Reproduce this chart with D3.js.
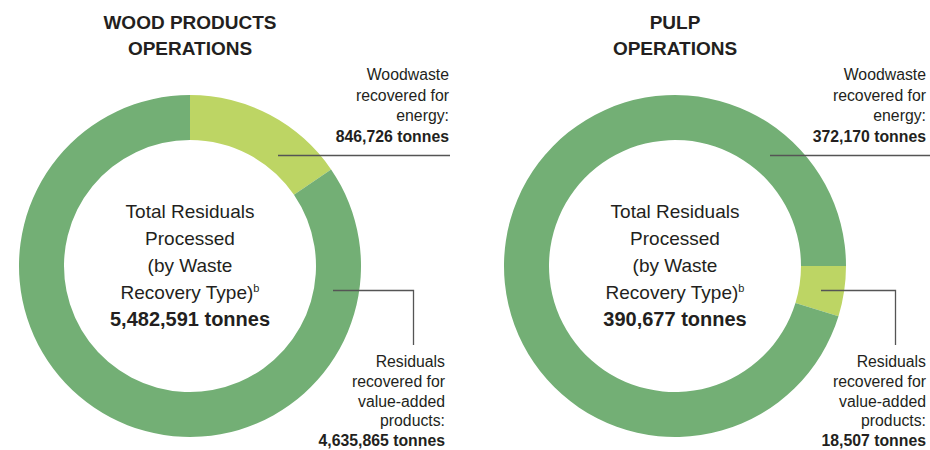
<!DOCTYPE html>
<html>
<head>
<meta charset="utf-8">
<script src="https://cdn.jsdelivr.net/npm/d3@7"></script>
<style>
  html, body { margin: 0; padding: 0; background: #ffffff; }
  svg { display: block; }
  text { font-family: "Liberation Sans", Arial, sans-serif; fill: #231f20; }
</style>
</head>
<body>
<svg id="chart" width="930" height="450"></svg>
<script>
// Residual volumes, tonnes
const woodCategories = ["Woodwaste recovered for energy", "Residuals recovered for value-added products"];
const woodValues = [846726, 4635865];
const woodTotal = 5482591;

const pulpCategories = ["Residuals recovered for value-added products", "Woodwaste recovered for energy"];
const pulpValues = [18507, 372170];
const pulpTotal = 390677;

const titles = [["WOOD PRODUCTS", "OPERATIONS"], ["PULP", "OPERATIONS"]];
const centerLines = ["Total Residuals", "Processed", "(by Waste", "Recovery Type)"];

const darkGreen = "#73af75";
const lightGreen = "#bdd564";

const svg = d3.select("#chart");
const fmt = d3.format(",");

const outerR = 171, innerR = 126;
const arc = d3.arc().innerRadius(innerR).outerRadius(outerR);
const labelSize = "15.8px";

function donut(cx, cy, cats, vals, total, start, colorFor, title, layout, topLabel, bottomLabel) {
  const g = svg.append("g").attr("transform", `translate(${cx},${cy})`);
  const pie = d3.pie().sort(null).value(d => d.v)
    .startAngle(start).endAngle(start + 2 * Math.PI);
  const data = cats.map((c, i) => ({ c, v: vals[i] }));
  g.selectAll("path").data(pie(data)).join("path")
    .attr("d", arc)
    .attr("fill", d => colorFor(d.data.c));

  // title
  const t = svg.append("text").attr("x", cx).attr("text-anchor", "middle")
    .style("font-weight", "bold").style("font-size", "19px");
  title.forEach((line, i) => t.append("tspan").attr("x", cx).attr("y", 29 + i * 26).text(line));

  // centre text
  const ct = svg.append("text").attr("text-anchor", "middle").style("font-size", "19px");
  centerLines.forEach((line, i) => {
    const ts = ct.append("tspan").attr("x", cx).attr("y", cy - 48 + i * 27).text(line);
    if (i === centerLines.length - 1) {
      ts.append("tspan").attr("dy", -7).style("font-size", "11px").text("b");
    }
  });
  svg.append("text").attr("x", cx).attr("y", cy + 60).attr("text-anchor", "middle")
    .style("font-size", "20px").style("font-weight", "bold")
    .text(fmt(total) + " tonnes");

  // top label with leader line
  const rx = cx + layout.topRight;
  const tl = svg.append("text").attr("text-anchor", "end").style("font-size", labelSize);
  topLabel.lines.forEach((line, i) => tl.append("tspan").attr("x", rx).attr("y", 80 + i * 20.5).text(line));
  tl.append("tspan").attr("x", rx).attr("y", 80 + topLabel.lines.length * 20.5)
    .style("font-weight", "bold").text(fmt(topLabel.value) + " tonnes");
  svg.append("line")
    .attr("x1", cx + topLabel.lineStart).attr("x2", cx + layout.lineEnd)
    .attr("y1", 155.5).attr("y2", 155.5)
    .attr("stroke", "#555").attr("stroke-width", 1.3);

  // bottom label with elbow leader
  const bx = cx + layout.bottomRight;
  const bl = svg.append("text").attr("text-anchor", "end").style("font-size", labelSize);
  bottomLabel.lines.forEach((line, i) => bl.append("tspan").attr("x", bx).attr("y", 367 + i * 19.8).text(line));
  bl.append("tspan").attr("x", bx).attr("y", 367 + bottomLabel.lines.length * 19.8)
    .style("font-weight", "bold").text(fmt(bottomLabel.value) + " tonnes");
  svg.append("path")
    .attr("d", `M${cx + bottomLabel.lineStart},290.5 H${cx + layout.elbow} V345`)
    .attr("fill", "none").attr("stroke", "#555").attr("stroke-width", 1.3);
}

donut(190, 266, woodCategories, woodValues, woodTotal, 0,
  c => c === woodCategories[0] ? lightGreen : darkGreen,
  titles[0],
  { topRight: 259, lineEnd: 260, bottomRight: 255, elbow: 223.5 },
  { lines: ["Woodwaste", "recovered for", "energy:"], value: woodValues[0], lineStart: 88 },
  { lines: ["Residuals", "recovered for", "value-added", "products:"], value: woodValues[1], lineStart: 143 });

donut(675, 266, pulpCategories, pulpValues, pulpTotal, Math.PI / 2,
  c => c === pulpCategories[0] ? lightGreen : darkGreen,
  titles[1],
  { topRight: 251, lineEnd: 262, bottomRight: 251, elbow: 220.5 },
  { lines: ["Woodwaste", "recovered for", "energy:"], value: pulpValues[1], lineStart: 95 },
  { lines: ["Residuals", "recovered for", "value-added", "products:"], value: pulpValues[0], lineStart: 146 });
</script>
</body>
</html>
